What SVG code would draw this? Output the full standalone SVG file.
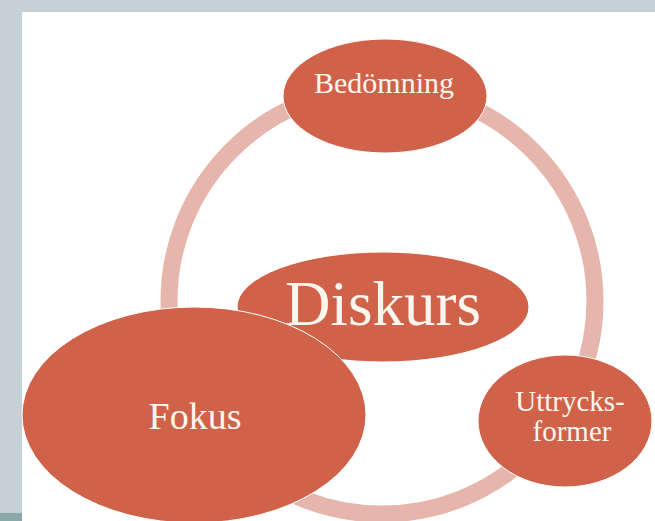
<svg xmlns="http://www.w3.org/2000/svg" width="655" height="521" viewBox="0 0 655 521">
  <style>
    .node { fill: #d1624a; stroke: #ffffff; stroke-width: 1; }
    .label { fill: #fdf6ef; font-family: "Liberation Serif", "Times New Roman", serif; text-anchor: middle; }
    .ring { fill: none; stroke: #e6b5ab; stroke-width: 17; }
  </style>

  <!-- slide frame -->
  <rect x="0" y="0" width="655" height="521" fill="#c5d1d7"/>
  <rect x="0" y="513" width="22" height="8" fill="#8ba8ab"/>
  <rect x="22" y="12" width="633" height="509" fill="#ffffff"/>

  <!-- connecting cycle -->
  <g id="connectors">
    <circle class="ring" cx="382" cy="301" r="213"/>
  </g>

  <g id="node-bedomning">
    <ellipse class="node" cx="385" cy="96" rx="102" ry="57"/>
    <text class="label" x="384" y="93" font-size="30">Bedömning</text>
  </g>

  <g id="node-uttrycksformer">
    <ellipse class="node" cx="565" cy="421" rx="87" ry="66"/>
    <text class="label" x="570" y="411" font-size="29">Uttrycks-</text>
    <text class="label" x="572" y="441" font-size="29">former</text>
  </g>

  <g id="node-diskurs">
    <ellipse class="node" cx="383" cy="307" rx="146" ry="55"/>
    <text class="label" x="383" y="325" font-size="63">Diskurs</text>
  </g>

  <g id="node-fokus">
    <ellipse class="node" cx="194" cy="415" rx="172" ry="108"/>
    <text class="label" x="195" y="429" font-size="38">Fokus</text>
  </g>
</svg>
